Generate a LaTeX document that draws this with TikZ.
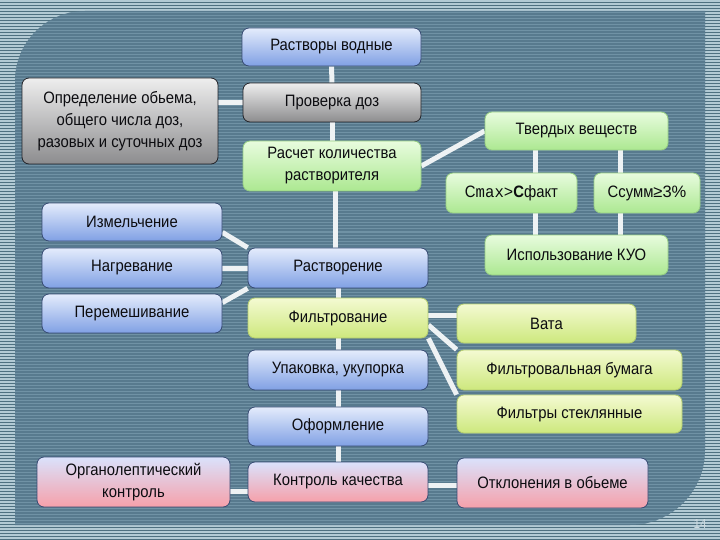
\documentclass[tikz,border=0pt]{standalone}
\usepackage{fontspec}
\setmainfont{Liberation Sans}[FakeStretch=0.9]
\newfontfamily\monofont{Liberation Mono}[FakeStretch=0.95]
\newfontfamily\widefont{Liberation Sans}
\usepackage{tikz}
\usetikzlibrary{calc}
\definecolor{framebg}{RGB}{78,112,128}
\definecolor{framestripe}{RGB}{178,202,212}
\definecolor{panelbg}{RGB}{88,122,142}
\definecolor{panelstripe}{RGB}{112,146,165}
\definecolor{textdark}{RGB}{12,12,16}
\definecolor{bluetop}{RGB}{228,236,252}
\definecolor{bluebot}{RGB}{128,160,228}
\definecolor{blueedge}{RGB}{55,75,115}
\definecolor{graytop}{RGB}{238,238,238}
\definecolor{graybot}{RGB}{140,140,142}
\definecolor{grayedge}{RGB}{35,35,40}
\definecolor{greentop}{RGB}{232,252,222}
\definecolor{greenbot}{RGB}{172,232,145}
\definecolor{greenedge}{RGB}{150,205,130}
\definecolor{limetop}{RGB}{244,250,210}
\definecolor{limebot}{RGB}{205,232,125}
\definecolor{limeedge}{RGB}{180,205,110}
\definecolor{pinktop}{RGB}{218,226,252}
\definecolor{pinkbot}{RGB}{246,160,170}
\definecolor{linkwhite}{RGB}{238,242,244}
\definecolor{pagegray}{RGB}{205,218,224}

\pgfdeclarelayer{back}
\pgfdeclarelayer{links}
\pgfsetlayers{back,links,main}

\tikzset{
  box/.style={rounded corners=7pt, minimum height=40pt, align=center,
    font=\fontsize{16.5}{22}\selectfont, text=textdark, inner sep=2pt, line width=0.8pt},
  bluebox/.style={box, draw=blueedge, top color=bluetop, bottom color=bluebot},
  graybox/.style={box, draw=grayedge, top color=graytop, bottom color=graybot},
  greenbox/.style={box, draw=greenedge, top color=greentop, bottom color=greenbot},
  limebox/.style={box, draw=limeedge, top color=limetop, bottom color=limebot},
  pinkbox/.style={box, draw=blueedge, top color=pinktop, bottom color=pinkbot},
  link/.style={draw=linkwhite, line width=5pt},
}

\begin{document}
\begin{tikzpicture}[x=1pt,y=-1pt]
\useasboundingbox (0,0) rectangle (720,540);

% background
\begin{pgfonlayer}{back}
\fill[framebg] (0,0) rectangle (720,540);
\foreach \y in {1,4,...,540}
  \draw[framestripe, line width=1.1pt] (0,\y) -- (720,\y);
\fill[panelbg] (15,525) [rounded corners=70pt] -- (15,11) [sharp corners] -- (705,11)
  [rounded corners=75pt] -- (705,525) [sharp corners] -- cycle;
\begin{scope}
\clip (15,525) [rounded corners=70pt] -- (15,11) [sharp corners] -- (705,11)
  [rounded corners=75pt] -- (705,525) [sharp corners] -- cycle;
\foreach \y in {1,4,...,540}
  \draw[panelstripe, line width=1pt] (0,\y) -- (720,\y);
\end{scope}
\end{pgfonlayer}

% top column
\node[bluebox, minimum width=179pt, minimum height=38pt] (vod) at (331.5,47) {Растворы водные};
\node[graybox, minimum width=178pt, minimum height=39pt] (prov) at (332,102.5) {Проверка доз};
\node[graybox, minimum width=196pt, minimum height=86pt] (opred) at (120,121)
  {Определение обьема,\\общего числа доз,\\разовых и суточных доз};
\node[greenbox, minimum width=178pt, minimum height=50pt] (rasch) at (332,166)
  {Расчет количества\\растворителя};

% solids branch
\node[greenbox, minimum width=183pt, minimum height=38pt] (tverd) at (576.5,131) {Твердых веществ};
\node[greenbox, minimum width=131pt] (cmax) at (511.5,193)
  {C{\monofont max>}{\bfseries С}факт};
\node[greenbox, minimum width=106pt] (csum) at (647,193) {Cсумм{\widefont≥3\%}};
\node[greenbox, minimum width=183pt] (kuo) at (576.5,255) {Использование КУО};

% dissolving
\node[bluebox, minimum width=180pt, minimum height=38pt] (izm) at (132,222) {Измельчение};
\node[bluebox, minimum width=180pt] (nagr) at (132,268) {Нагревание};
\node[bluebox, minimum width=180pt, minimum height=39pt] (perem) at (132,313.5) {Перемешивание};
\node[bluebox, minimum width=180pt] (rastv) at (338,268) {Растворение};

% filtering
\node[limebox, minimum width=180pt] (filt) at (338,318) {Фильтрование};
\node[limebox, minimum width=179pt, minimum height=39pt] (vata) at (546.5,323.5) {Вата};
\node[limebox, minimum width=225pt] (bumaga) at (569.5,370) {Фильтровальная бумага};
\node[limebox, minimum width=225pt, minimum height=38pt] (steklo) at (569.5,414) {Фильтры стеклянные};

% lower column
\node[bluebox, minimum width=180pt] (upak) at (338,370) {Упаковка, укупорка};
\node[bluebox, minimum width=180pt, minimum height=39pt] (oform) at (338,426.5) {Оформление};
\node[pinkbox, minimum width=180pt] (kontr) at (338,482) {Контроль качества};
\node[pinkbox, minimum width=193pt, minimum height=50pt] (organ) at (133.5,482)
  {Органолептический\\контроль};
\node[pinkbox, minimum width=191pt, minimum height=50pt] (otkl) at (552.5,483) {Отклонения в обьеме};

\node[text=pagegray, font=\fontsize{13}{13}\selectfont] (page) at (700,524) {14};

% connectors
\begin{pgfonlayer}{links}
\draw[link] (vod) -- (prov);
\draw[link] (prov) -- (rasch);
\draw[link] (prov.west) -- (prov.west -| opred.east);
\draw[link] ([xshift=-3pt]rastv.north) -- ([xshift=-3pt]rastv.north |- rasch.south);
\draw[link] (rasch.east) -- (tverd.west);
\draw[link] ([xshift=24pt]cmax.north) -- ([xshift=24pt]cmax.north |- tverd.south);
\draw[link] ([xshift=-27pt]csum.north) -- ([xshift=-27pt]csum.north |- tverd.south);
\draw[link] ([xshift=24pt]cmax.south) -- ([xshift=24pt]cmax.south |- kuo.north);
\draw[link] ([xshift=-27pt]csum.south) -- ([xshift=-27pt]csum.south |- kuo.north);
\draw[link] ([yshift=9pt]izm.south east) -- (rastv.north west);
\draw[link] (nagr) -- (rastv);
\draw[link] ([yshift=-9pt]perem.north east) -- (rastv.south west);
\draw[link] (rastv) -- (filt);
\draw[link] ([yshift=8pt]vata.west) -- ([yshift=8pt]vata.west -| filt.east);
\draw[link] ([yshift=-7pt]filt.east) -- (bumaga.north west);
\draw[link] (filt.south east) -- (steklo.north west);
\draw[link] (filt) -- (upak);
\draw[link] (upak) -- (oform);
\draw[link] (oform) -- (kontr);
\draw[link] ([yshift=-9pt]kontr.west) -- ([yshift=-9pt]kontr.west -| organ.east);
\draw[link] ([yshift=-3pt]kontr.east) -- ([yshift=-3pt]kontr.east -| otkl.west);
\end{pgfonlayer}

\end{tikzpicture}
\end{document}
